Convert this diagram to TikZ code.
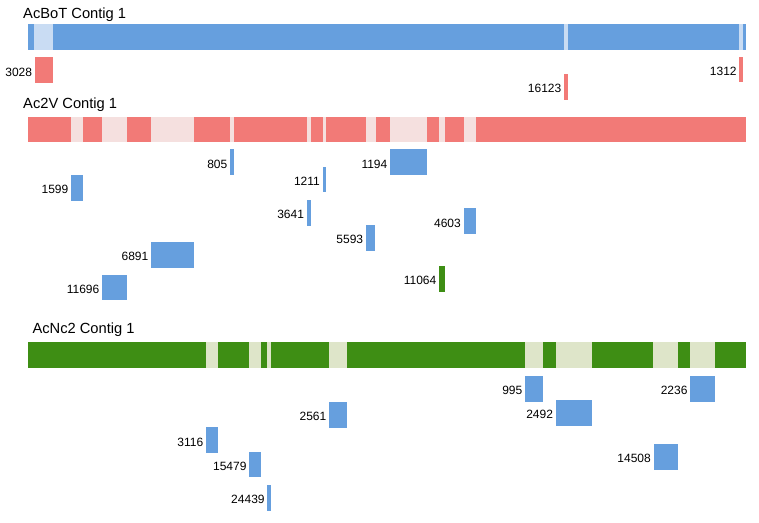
\documentclass[tikz,border=0pt]{standalone}
\usepackage{fontspec}
\setmainfont{Liberation Sans}
\definecolor{cblue}{RGB}{102,159,222}
\definecolor{cred}{RGB}{242,122,119}
\definecolor{cgreen}{RGB}{62,142,20}
\definecolor{lblue}{RGB}{201,220,243}
\definecolor{lred}{RGB}{245,224,223}
\definecolor{lgreen}{RGB}{222,229,201}
\tikzset{
  hitbox/.style={inner sep=0pt, outer sep=0pt, draw=none, anchor=north west, minimum height=25.7pt},
  barbox/.style={inner sep=0pt, outer sep=0pt, draw=none, anchor=north west, minimum height=25.8pt, minimum width=717.7pt},
  numlab/.style={inner sep=0pt, anchor=east, font=\fontsize{12}{14}\selectfont, xshift=-2.5pt, yshift=-2pt},
  titlelab/.style={inner sep=0pt, anchor=base west, font=\fontsize{14.7}{17}\selectfont}
}
% #1 name, #2 x1, #3 x2, #4 ytop, #5 colour, #6 label
\newcommand{\hitmark}[6]{%
  \node[hitbox, fill=#5, minimum width={(#3-#2)*1pt}] (#1) at (#2,#4) {};
  \node[numlab] (#1l) at (#1.west) {#6};
}
% #1 x1, #2 x2, #3 ytop, #4 colour
\newcommand{\gapseg}[4]{%
  \fill[#4] (#1,#3) rectangle (#2,#3+25.8);
}
\begin{document}
\begin{tikzpicture}[x=1pt,y=-1pt]
\useasboundingbox (0,0) rectangle (759,522);
\fill[white] (0,0) rectangle (759,522);

% ---- AcBoT
\node[titlelab] (t1) at (23,18.3) {AcBoT Contig 1};
\node[barbox, fill=cblue] (bar1) at (28,24.2) {};
\gapseg{34.3}{52.7}{24.2}{lblue}
\gapseg{563.5}{567.6}{24.2}{lblue}
\gapseg{739.3}{742.7}{24.2}{lblue}
\hitmark{h3028}{34.8}{53}{57.3}{cred}{3028}
\hitmark{h16123}{564}{567.6}{74}{cred}{16123}
\hitmark{h1312}{739.3}{742.7}{56.7}{cred}{1312}

% ---- Ac2V
\node[titlelab] (t2) at (23,108.3) {Ac2V Contig 1};
\node[barbox, fill=cred] (bar2) at (28,116.6) {};
\gapseg{71}{83.3}{116.6}{lred}
\gapseg{102}{126.7}{116.6}{lred}
\gapseg{151}{194}{116.6}{lred}
\gapseg{230}{234}{116.6}{lred}
\gapseg{306.7}{310.7}{116.6}{lred}
\gapseg{322.7}{326}{116.6}{lred}
\gapseg{366}{375.7}{116.6}{lred}
\gapseg{390}{426.7}{116.6}{lred}
\gapseg{439}{445}{116.6}{lred}
\gapseg{463.7}{476}{116.6}{lred}
\hitmark{h805}{230}{234}{149.3}{cblue}{805}
\hitmark{h1194}{390}{426.7}{149.3}{cblue}{1194}
\hitmark{h1211}{322.5}{326}{166.7}{cblue}{1211}
\hitmark{h1599}{71}{83.3}{175}{cblue}{1599}
\hitmark{h3641}{306.7}{310.5}{200}{cblue}{3641}
\hitmark{h4603}{463.5}{475.8}{208.3}{cblue}{4603}
\hitmark{h5593}{365.8}{375.3}{225}{cblue}{5593}
\hitmark{h6891}{151}{193.8}{242}{cblue}{6891}
\hitmark{h11064}{439}{445}{266}{cgreen}{11064}
\hitmark{h11696}{102}{126.5}{274.7}{cblue}{11696}

% ---- AcNc2
\node[titlelab] (t3) at (32.3,333.3) {AcNc2 Contig 1};
\node[barbox, fill=cgreen] (bar3) at (28,342.3) {};
\gapseg{206}{218.3}{342.3}{lgreen}
\gapseg{249.3}{261}{342.3}{lgreen}
\gapseg{267.3}{270.7}{342.3}{lgreen}
\gapseg{329}{347.3}{342.3}{lgreen}
\gapseg{525}{543.3}{342.3}{lgreen}
\gapseg{555.7}{592.3}{342.3}{lgreen}
\gapseg{653.3}{678.3}{342.3}{lgreen}
\gapseg{690}{715}{342.3}{lgreen}
\hitmark{h995}{525}{543.3}{376}{cblue}{995}
\hitmark{h2236}{690.2}{714.8}{376}{cblue}{2236}
\hitmark{h2492}{555.7}{592.2}{400}{cblue}{2492}
\hitmark{h2561}{329}{347.2}{402}{cblue}{2561}
\hitmark{h3116}{206}{218.3}{427.3}{cblue}{3116}
\hitmark{h14508}{653.5}{678.2}{444}{cblue}{14508}
\hitmark{h15479}{249.2}{261}{451.7}{cblue}{15479}
\hitmark{h24439}{267.3}{270.7}{485}{cblue}{24439}
\end{tikzpicture}
\end{document}
